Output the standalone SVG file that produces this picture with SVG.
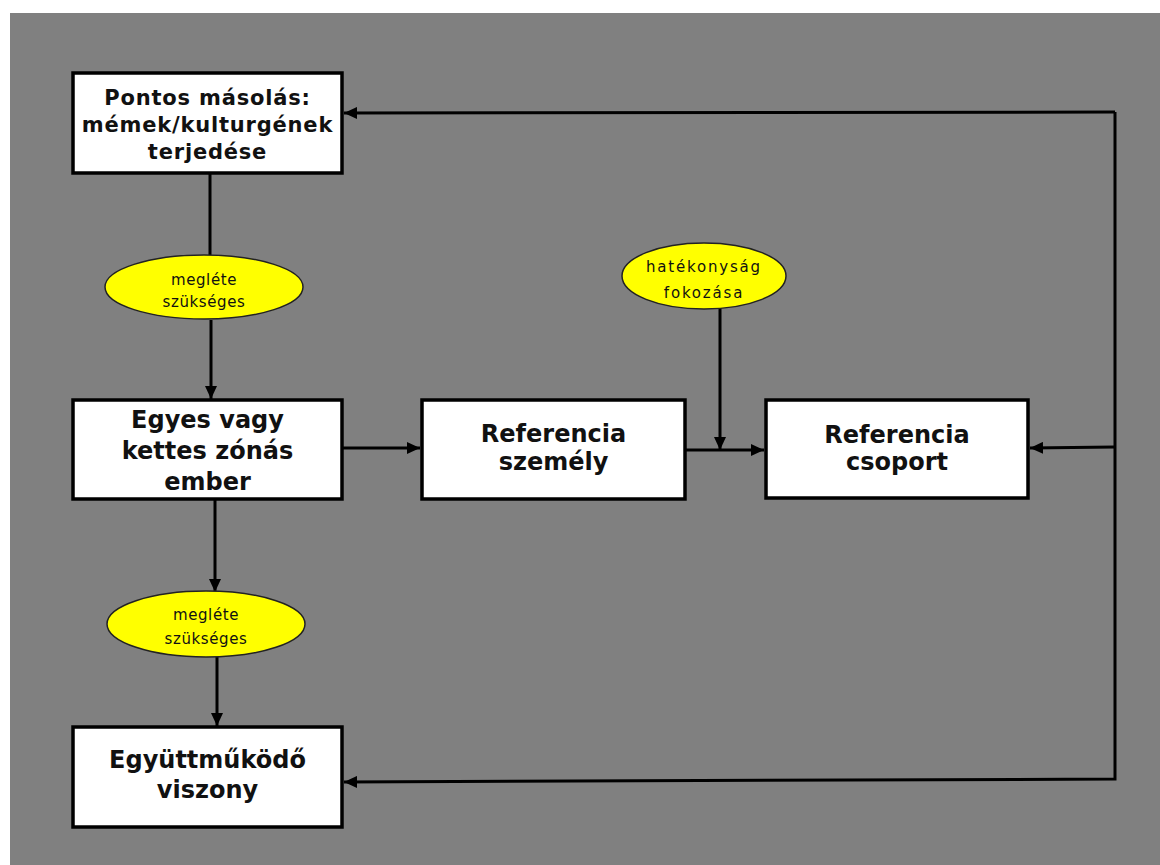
<svg xmlns="http://www.w3.org/2000/svg" width="1160" height="865" viewBox="0 0 1160 865">
<defs>
<marker id="arr" markerUnits="userSpaceOnUse" markerWidth="14" markerHeight="12" refX="13" refY="6" orient="auto">
<path d="M0,0 L13,6 L0,12 z" fill="#000"/>
</marker>
<style>
.box{fill:#fff;stroke:#000;stroke-width:3.5}
.ell{fill:#ffff00;stroke:#222;stroke-width:1.5}
.bt{font-family:"DejaVu Sans",Verdana,sans-serif;font-weight:bold;fill:#111;text-anchor:middle}
.et{font-family:"DejaVu Sans",Verdana,sans-serif;font-size:15px;fill:#111;text-anchor:middle}
.ln{fill:none;stroke:#000;stroke-width:3}
</style>
</defs>
<rect x="0" y="0" width="1160" height="865" fill="#fff"/>
<rect x="10" y="13" width="1150" height="852" fill="#808080"/>
<g id="connectors">
<line class="ln" x1="210" y1="173" x2="210" y2="255"/>
<line class="ln" x1="211" y1="320" x2="211" y2="399" marker-end="url(#arr)"/>
<line class="ln" x1="215" y1="499" x2="215" y2="592" marker-end="url(#arr)"/>
<line class="ln" x1="217" y1="657" x2="217" y2="726" marker-end="url(#arr)"/>
<line class="ln" x1="342" y1="448" x2="420" y2="448" marker-end="url(#arr)"/>
<line class="ln" x1="685" y1="450" x2="764" y2="450" marker-end="url(#arr)"/>
<line class="ln" x1="720" y1="308" x2="720" y2="450" marker-end="url(#arr)"/>
<polyline class="ln" points="1115,447 1115,112"/>
<line class="ln" x1="1115" y1="112" x2="344" y2="113" marker-end="url(#arr)"/>
<line class="ln" x1="1115" y1="447" x2="1030" y2="448" marker-end="url(#arr)"/>
<polyline class="ln" points="1115,447 1115,779 344,782" marker-end="url(#arr)"/>
</g>
<g id="n1">
<rect class="box" x="73" y="73" width="269" height="100"/>
<text class="bt" font-size="21" x="207.5" y="105" letter-spacing="0.8">Pontos másolás:</text>
<text class="bt" font-size="21" x="207.5" y="132" letter-spacing="0.8">mémek/kulturgének</text>
<text class="bt" font-size="21" x="207.5" y="159" letter-spacing="0.8">terjedése</text>
</g>
<g id="e1">
<ellipse class="ell" cx="204" cy="287" rx="99" ry="32"/>
<text class="et" x="204" y="285" letter-spacing="0.6">megléte</text>
<text class="et" x="204" y="307" letter-spacing="0.6">szükséges</text>
</g>
<g id="n2">
<rect class="box" x="73" y="400" width="269" height="99"/>
<text class="bt" font-size="24" x="207.5" y="428">Egyes vagy</text>
<text class="bt" font-size="24" x="207.5" y="459">kettes zónás</text>
<text class="bt" font-size="24" x="207.5" y="490">ember</text>
</g>
<g id="e2">
<ellipse class="ell" cx="206" cy="624" rx="99" ry="33"/>
<text class="et" x="206" y="620" letter-spacing="0.6">megléte</text>
<text class="et" x="206" y="644" letter-spacing="0.6">szükséges</text>
</g>
<g id="n3">
<rect class="box" x="73" y="727" width="269" height="100"/>
<text class="bt" font-size="24" x="207.5" y="768">Együttműködő</text>
<text class="bt" font-size="24" x="207.5" y="798">viszony</text>
</g>
<g id="n4">
<rect class="box" x="422" y="400" width="263" height="99"/>
<text class="bt" font-size="24" x="553.5" y="442">Referencia</text>
<text class="bt" font-size="24" x="553.5" y="470">személy</text>
</g>
<g id="e3">
<ellipse class="ell" cx="704" cy="276" rx="82" ry="33"/>
<text class="et" x="704" y="272" letter-spacing="1.8">hatékonyság</text>
<text class="et" x="704" y="298" letter-spacing="1.8">fokozása</text>
</g>
<g id="n5">
<rect class="box" x="766" y="400" width="262" height="98"/>
<text class="bt" font-size="24" x="897" y="443">Referencia</text>
<text class="bt" font-size="24" x="897" y="470">csoport</text>
</g>
</svg>
